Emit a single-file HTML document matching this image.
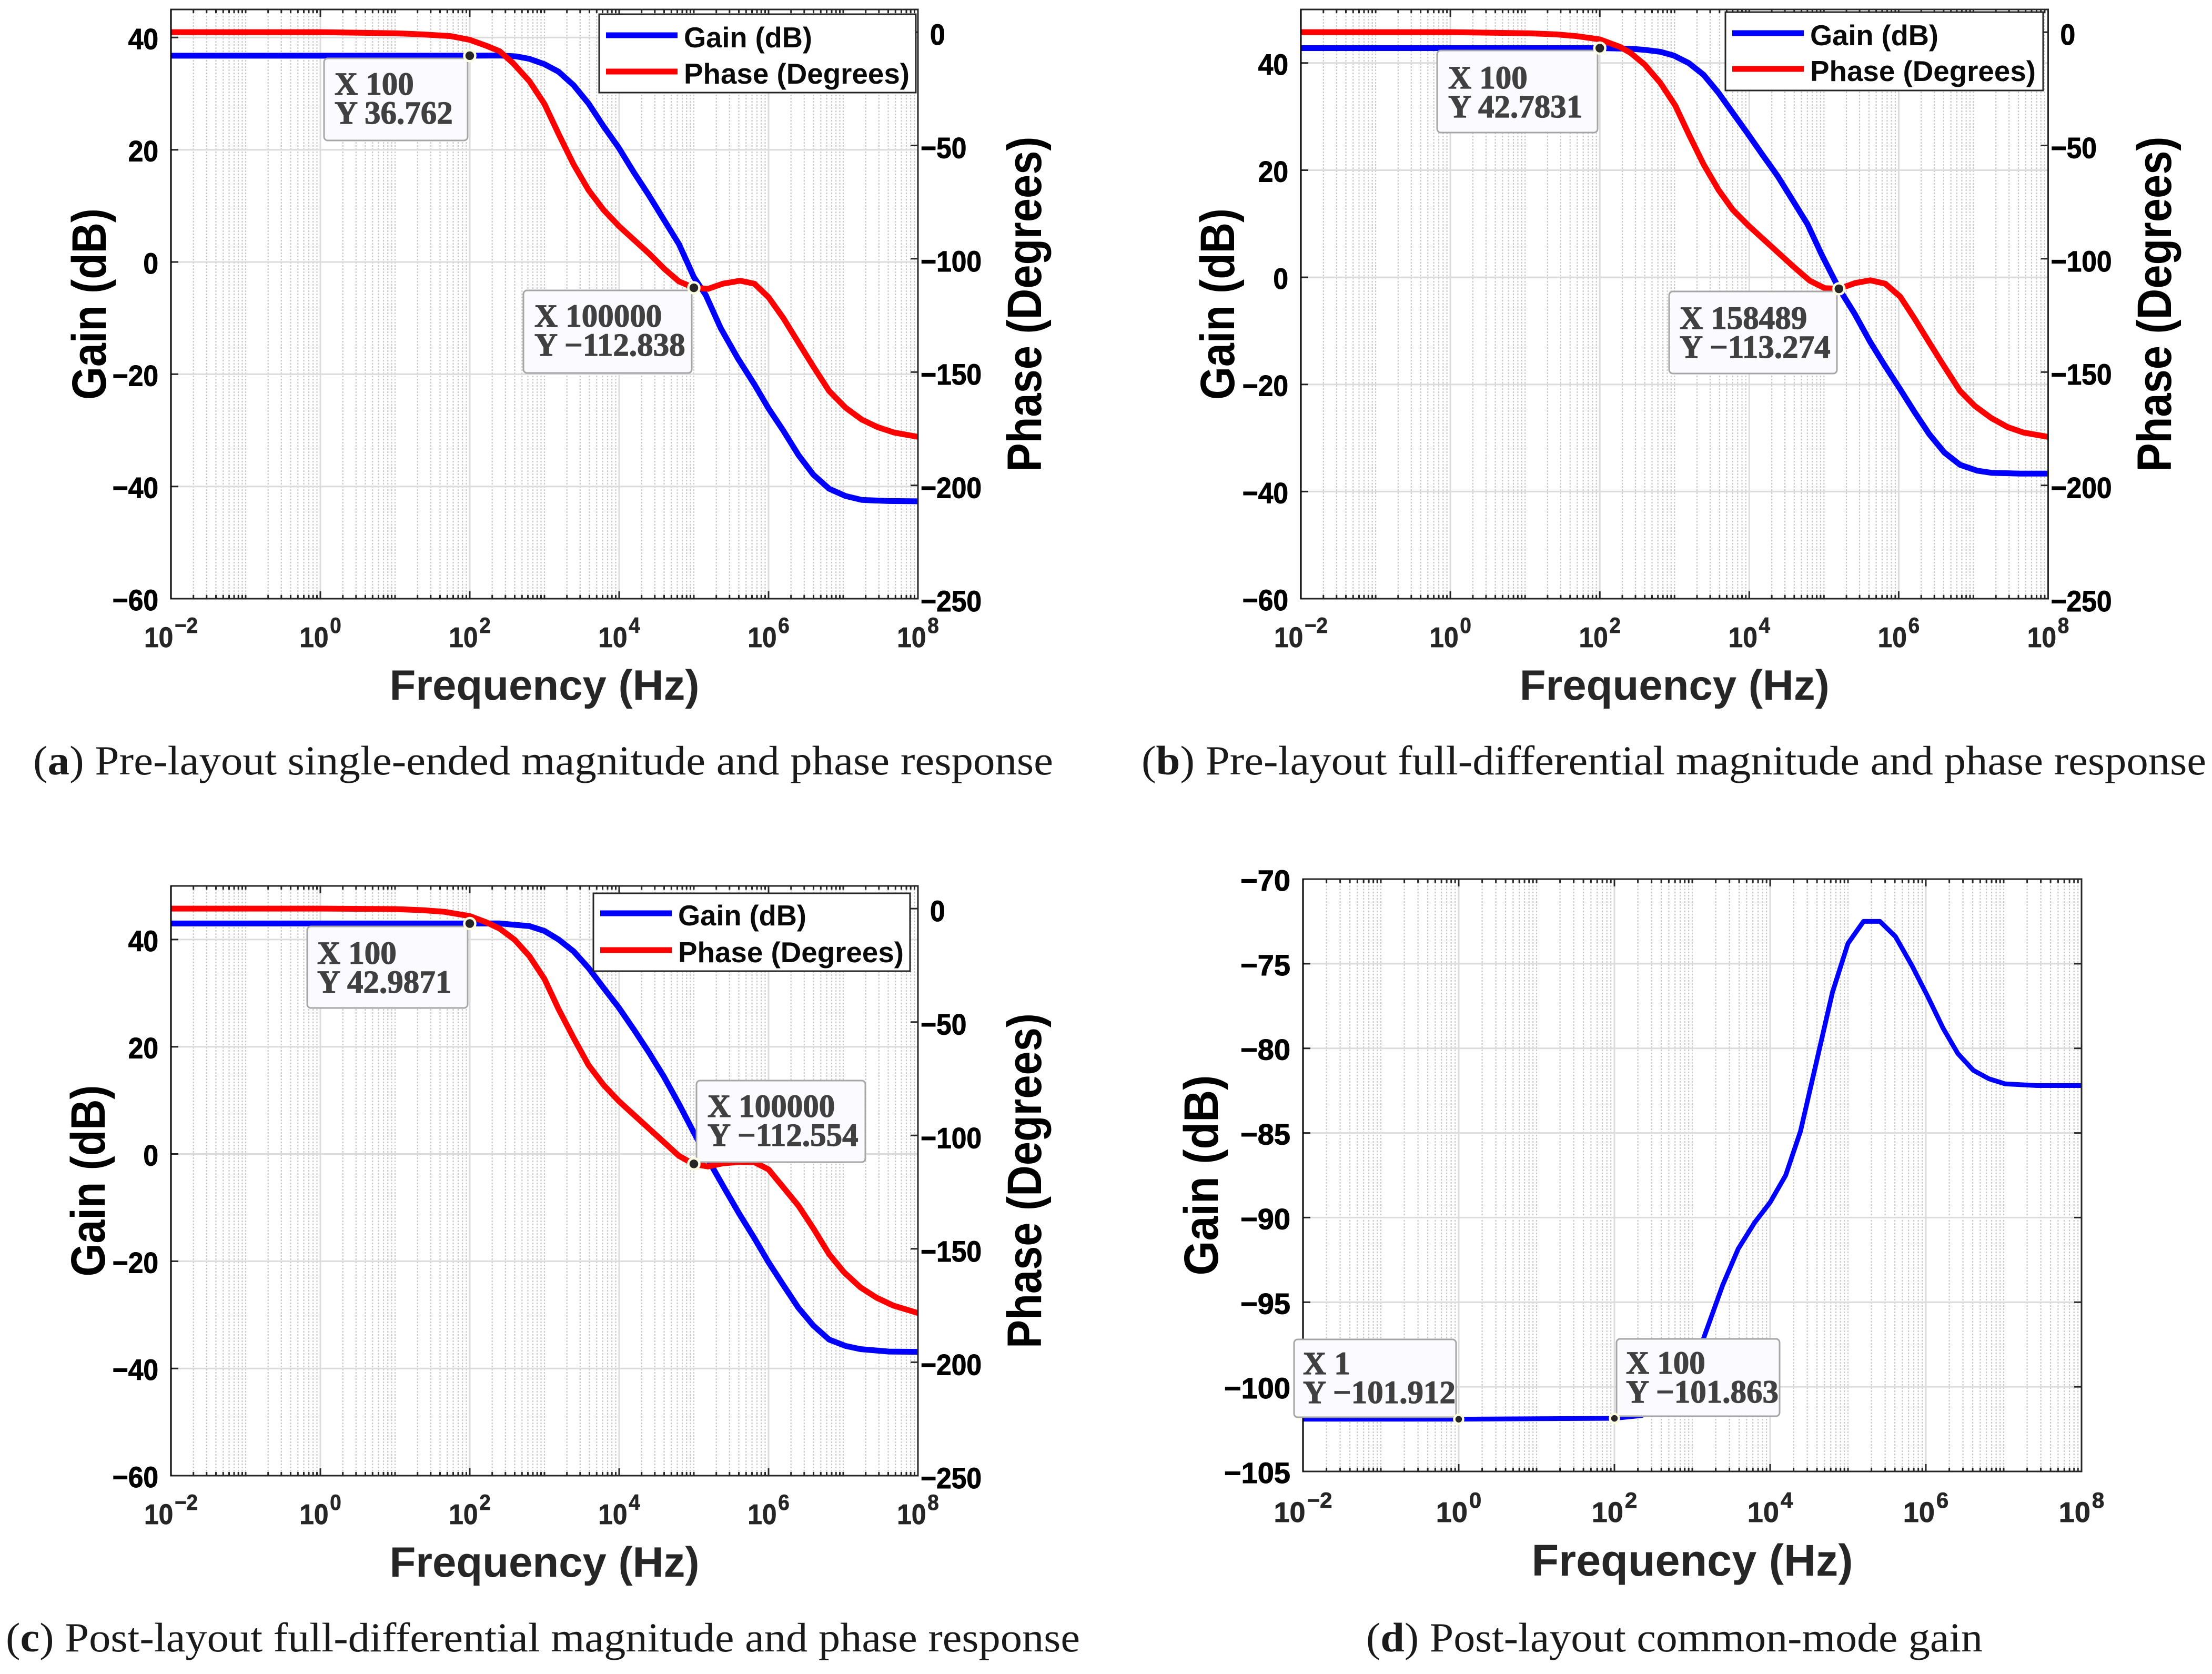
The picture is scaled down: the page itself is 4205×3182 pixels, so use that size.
<!DOCTYPE html>
<html lang="en">
<head>
<meta charset="utf-8">
<title>Gain and phase response charts</title>
<style>
html,body{margin:0;padding:0;background:#fff}
svg{display:block}
text{font-family:"Liberation Sans",sans-serif}
.cap{font-family:"Liberation Serif",serif;font-size:78px;fill:#1a1a1a}
</style>
</head>
<body>
<svg id="figure" xmlns="http://www.w3.org/2000/svg" width="4205" height="3182" viewBox="0 0 4205 3182">
<rect x="0" y="0" width="4205" height="3182" fill="#ffffff"/>
<g id="panel-a"></g>
<g id="panel-b"></g>
<g id="panel-c"></g>
<g id="panel-d"></g>
<text class="cap" x="63" y="1472" textLength="1939" lengthAdjust="spacingAndGlyphs">(<tspan font-weight="bold">a</tspan>) Pre-layout single-ended magnitude and phase response</text>
<text class="cap" x="2170" y="1472" textLength="2024" lengthAdjust="spacingAndGlyphs">(<tspan font-weight="bold">b</tspan>) Pre-layout full-differential magnitude and phase response</text>
<text class="cap" x="11" y="3139" textLength="2042" lengthAdjust="spacingAndGlyphs">(<tspan font-weight="bold">c</tspan>) Post-layout full-differential magnitude and phase response</text>
<text class="cap" x="2597" y="3139" textLength="1172" lengthAdjust="spacingAndGlyphs">(<tspan font-weight="bold">d</tspan>) Post-layout common-mode gain</text>
</svg>
<script>
// ---------- shared axis data ----------
const decadeExponents = [-2, 0, 2, 4, 6, 8];
const gainTicks = [-60, -40, -20, 0, 20, 40];
const phaseTicks = [-250, -200, -150, -100, -50, 0];
const commonModeTicks = [-105, -100, -95, -90, -85, -80, -75, -70];
const legendLabels = ['Gain (dB)', 'Phase (Degrees)'];

// ---------- panel (a) ----------
const aGainLogF = [-2, 2, 2.4, 2.62, 2.8, 3, 3.19, 3.39, 3.59, 3.79, 3.99, 4.2, 4.4, 4.6, 4.8, 4.92, 5, 5.16, 5.36, 5.59, 5.81, 6, 6.2, 6.4, 6.6, 6.81, 7.03, 7.25, 7.61, 8];
const aGainDb = [36.76, 36.76, 36.8, 36.65, 36.2, 35.25, 33.9, 31.5, 28.25, 24.2, 20.45, 15.9, 11.84, 7.5, 3.2, -0.3, -2.7, -5.9, -11.8, -17.2, -21.8, -26.1, -30.1, -34.4, -37.9, -40.4, -41.7, -42.4, -42.6, -42.65];
const aPhaseLogF = [-2, 0, 1, 1.37, 1.75, 2, 2.22, 2.4, 2.58, 2.8, 3, 3.19, 3.39, 3.59, 3.79, 4, 4.2, 4.4, 4.6, 4.8, 5, 5.19, 5.39, 5.62, 5.81, 6, 6.2, 6.4, 6.6, 6.81, 7.03, 7.25, 7.46, 7.68, 8];
const aPhaseDeg = [0, 0, -0.5, -1, -1.8, -3.4, -6, -8.4, -13.7, -21.7, -31.7, -45, -58.4, -69.7, -78.4, -85.7, -91.7, -97.7, -104.3, -110, -112.8, -113.3, -111, -109.7, -111, -117, -126.3, -137, -147.6, -158.3, -165.7, -171, -174.3, -176.7, -178.6];
const aTipFreq = [100, 100000];
const aTipValue = [36.762, -112.838];
const aTipXLabels = ['100', '100000'];
const aTipYLabels = ['36.762', '\u2212112.838'];

// ---------- panel (b) ----------
const bGainLogF = [-2, 2, 2.41, 2.61, 2.81, 2.99, 3.19, 3.39, 3.59, 3.78, 3.98, 4.18, 4.38, 4.58, 4.78, 4.97, 5.2, 5.41, 5.62, 5.82, 6.02, 6.21, 6.41, 6.61, 6.82, 7.05, 7.24, 7.62, 8];
const bGainDb = [42.78, 42.78, 42.67, 42.45, 42.1, 41.4, 40, 37.8, 34.4, 30.7, 26.8, 22.8, 18.9, 14.4, 9.9, 4.2, -2.1, -6.8, -12.1, -16.6, -20.9, -25.1, -29.3, -32.7, -35, -36.1, -36.5, -36.65, -36.65];
const bPhaseLogF = [-2, 0, 1.04, 1.42, 1.7, 2, 2.27, 2.41, 2.6, 2.81, 3.01, 3.19, 3.39, 3.59, 3.78, 4, 4.2, 4.4, 4.6, 4.81, 5.01, 5.2, 5.42, 5.62, 5.82, 6.02, 6.21, 6.41, 6.61, 6.82, 7.02, 7.24, 7.46, 7.67, 8];
const bPhaseDeg = [0, 0, -0.5, -1, -1.8, -3.2, -6.5, -9.1, -14.3, -22.4, -32.4, -45, -58.4, -69.7, -78.4, -85.7, -91.7, -97.7, -103.7, -109.7, -113, -113.27, -110.7, -109.5, -111, -116.7, -126.3, -137, -147.6, -158.3, -165, -170.3, -174.3, -176.7, -178.6];
const bTipFreq = [100, 158489];
const bTipValue = [42.7831, -113.274];
const bTipXLabels = ['100', '158489'];
const bTipYLabels = ['42.7831', '\u2212113.274'];

// ---------- panel (c) ----------
const cGainLogF = [-2, 2, 2.4, 2.6, 2.8, 3, 3.19, 3.39, 3.59, 3.79, 3.99, 4.2, 4.4, 4.6, 4.8, 5, 5.25, 5.41, 5.61, 5.81, 6, 6.2, 6.4, 6.6, 6.81, 7.03, 7.23, 7.61, 8];
const cGainDb = [42.99, 42.99, 43, 42.75, 42.5, 41.6, 40, 37.8, 34.7, 31, 27.4, 23.15, 18.9, 14.4, 9.35, 4, -2.5, -6.4, -11.2, -15.7, -20.2, -24.5, -28.7, -32, -34.6, -35.8, -36.4, -36.85, -36.9];
const cPhaseLogF = [-2, 0, 1, 1.37, 1.66, 2, 2.22, 2.4, 2.6, 2.8, 3, 3.19, 3.39, 3.59, 3.79, 4, 4.2, 4.4, 4.6, 4.8, 5, 5.19, 5.39, 5.61, 5.81, 6, 6.2, 6.4, 6.6, 6.81, 7.01, 7.23, 7.45, 7.67, 8];
const cPhaseDeg = [0, 0, -0.2, -0.7, -1.4, -3.3, -6, -8.8, -13.7, -21, -31, -44.4, -57, -69, -77.7, -85, -91, -97, -103, -109, -112.7, -113.7, -112.3, -111.7, -111.8, -115, -123, -131, -141, -152.3, -160.3, -167, -171.6, -175, -178.3];
const cTipFreq = [100, 100000];
const cTipValue = [42.9871, -112.554];
const cTipXLabels = ['100', '100000'];
const cTipYLabels = ['42.9871', '\u2212112.554'];

// ---------- panel (d) ----------
const dGainLogF = [-2, 0, 2, 2.35, 2.71, 2.94, 3.14, 3.39, 3.59, 3.8, 4, 4.2, 4.39, 4.57, 4.8, 5, 5.2, 5.41, 5.61, 5.82, 6.02, 6.22, 6.41, 6.61, 6.81, 7.02, 7.43, 8];
const dGainDb = [-101.91, -101.91, -101.86, -101.7, -100.9, -99, -97.2, -94, -91.85, -90.3, -89.1, -87.5, -84.9, -81.3, -76.7, -73.8, -72.5, -72.5, -73.4, -75.1, -76.9, -78.8, -80.3, -81.3, -81.8, -82.1, -82.2, -82.2];
const dTipFreq = [1, 100];
const dTipValue = [-101.912, -101.863];
const dTipXLabels = ['1', '100'];
const dTipYLabels = ['\u2212101.912', '\u2212101.863'];

// ---------- helpers ----------
const SVGNS = 'http://www.w3.org/2000/svg';
function mk(parent, tag, attrs) {
  const el = document.createElementNS(SVGNS, tag);
  for (const k in attrs) el.setAttribute(k, attrs[k]);
  parent.appendChild(el);
  return el;
}
function minusFmt(v) { return String(v).replace('-', '\u2212'); }
function scaledText(parent, content, x, y, sx, size, anchor, fill) {
  const t = mk(parent, 'text', {
    transform: 'translate(' + x + ',' + y + ') scale(' + sx + ',1)',
    'font-size': size, 'font-weight': 'bold', 'text-anchor': anchor, fill: fill,
    stroke: fill, 'stroke-width': 1
  });
  t.textContent = content;
  return t;
}

function drawPanel(cfg) {
  const g = document.getElementById(cfg.id);
  const box = cfg.box;
  const xs = lf => box.l + (lf - (-2)) / 10 * (box.r - box.l);
  const yL = v => box.b - (v - cfg.leftLim[0]) / (cfg.leftLim[1] - cfg.leftLim[0]) * (box.b - box.t);
  const yR = v => box.b - (v - (-250)) / 260 * (box.b - box.t);

  // grid
  let minorD = '';
  for (let dec = -2; dec < 8; dec++) {
    for (let m = 1; m <= 9; m++) {
      if (m === 1 && dec % 2 === 0) continue;
      const x = xs(dec + Math.log10(m));
      minorD += 'M' + x.toFixed(1) + ' ' + box.t + 'V' + box.b;
    }
  }
  const minor = mk(g, 'path', { d: minorD, stroke: '#c8c8c8', 'stroke-width': 2.2, 'stroke-dasharray': '3 3', fill: 'none' });
  
  

  let majorD = '';
  decadeExponents.forEach(e => { majorD += 'M' + xs(e).toFixed(1) + ' ' + box.t + 'V' + box.b; });
  cfg.leftTicks.forEach(v => { majorD += 'M' + box.l + ' ' + yL(v).toFixed(1) + 'H' + box.r; });
  const major = mk(g, 'path', { d: majorD, stroke: '#dcdcdc', 'stroke-width': 3, fill: 'none' });
  
  

  // ticks
  let tickD = '';
  for (let dec = -2; dec < 8; dec++) {
    for (let m = 2; m <= 10; m++) {
      if (m === 10 && (dec + 1) % 2 === 0) continue;
      const x = xs(dec + Math.log10(m)).toFixed(1);
      tickD += 'M' + x + ' ' + box.b + 'v-7M' + x + ' ' + box.t + 'v7';
    }
  }
  decadeExponents.forEach(e => {
    const x = xs(e).toFixed(1);
    tickD += 'M' + x + ' ' + box.b + 'v-14M' + x + ' ' + box.t + 'v14';
  });
  cfg.leftTicks.forEach(v => { tickD += 'M' + box.l + ' ' + yL(v).toFixed(1) + 'h14'; });
  if (cfg.phaseAxis) {
    phaseTicks.forEach(v => { tickD += 'M' + box.r + ' ' + yR(v).toFixed(1) + 'h-14'; });
  } else {
    cfg.leftTicks.forEach(v => { tickD += 'M' + box.r + ' ' + yL(v).toFixed(1) + 'h-14'; });
  }
  const ticks = mk(g, 'path', { d: tickD, stroke: '#262626', 'stroke-width': 3, fill: 'none' });
  
  

  // curves
  const toPts = (fs, vs, sy) => fs.map((f, i) => xs(f).toFixed(1) + ',' + sy(vs[i]).toFixed(1)).join(' ');
  const gainLine = mk(g, 'polyline', {
    points: toPts(cfg.gainF, cfg.gainV, yL), fill: 'none', stroke: '#0000ff',
    'stroke-width': cfg.phaseAxis ? 11 : 9, 'stroke-linejoin': 'round'
  });
  
  
  if (cfg.phaseAxis) {
    const phaseLine = mk(g, 'polyline', {
      points: toPts(cfg.phaseF, cfg.phaseV, yR), fill: 'none', stroke: '#ff0000',
      'stroke-width': 11, 'stroke-linejoin': 'round'
    });
    
    
  }

  // axes box
  const frame = mk(g, 'rect', { x: box.l, y: box.t, width: box.r - box.l, height: box.b - box.t, fill: 'none', stroke: '#262626', 'stroke-width': 3 });
  
  
  const leftAxis = mk(g, 'line', { x1: box.l, x2: box.l, y1: box.t, y2: box.b, stroke: '#000000', 'stroke-width': 3 });
  
  

  // left tick labels
  cfg.leftTicks.forEach(v => {
    const t = scaledText(g, minusFmt(v), box.l - 24, yL(v) + 22, cfg.tickScale, 56, 'end', '#000000');
    
    
  });

  // right tick labels
  if (cfg.phaseAxis) {
    phaseTicks.forEach(v => {
      const t = scaledText(g, minusFmt(v), box.r + (v === 0 ? 23 : 5), yR(v) + 24, cfg.tickScale, 56, 'start', '#000000');
      
      
    });
  }

  // x tick labels
  decadeExponents.forEach(e => {
    const t = mk(g, 'text', {
      transform: 'translate(' + xs(e).toFixed(1) + ',' + (box.b + cfg.xTickDrop) + ') scale(' + cfg.tickScale + ',1)',
      'font-size': 54, 'font-weight': 'bold', 'text-anchor': 'middle', fill: '#262626', stroke: '#262626', 'stroke-width': 0.8
    });
    
    
    const base = mk(t, 'tspan', {});
    base.textContent = '10';
    const sup = mk(t, 'tspan', { dy: -27, 'font-size': 42, dx: 3 });
    sup.textContent = minusFmt(e);
  });

  // axis titles
  const xTitle = mk(g, 'text', {
    x: (box.l + box.r) / 2, y: box.b + cfg.xTitleDrop, 'font-size': cfg.xTitleSize, 'font-weight': 'bold',
    'text-anchor': 'middle', fill: '#262626', textLength: cfg.xTitleLen, lengthAdjust: 'spacingAndGlyphs'
  });
  xTitle.textContent = 'Frequency (Hz)';
  
  

  const midY = (box.t + box.b) / 2;
  const gainTitle = mk(g, 'text', {
    transform: 'translate(' + cfg.gainTitleX + ',' + midY + ') rotate(-90)', 'font-size': 92, 'font-weight': 'bold',
    'text-anchor': 'middle', fill: '#000000', textLength: cfg.gainTitleLen, lengthAdjust: 'spacingAndGlyphs'
  });
  gainTitle.textContent = 'Gain (dB)';
  
  

  if (cfg.phaseAxis) {
    const phaseTitle = mk(g, 'text', {
      transform: 'translate(' + cfg.phaseTitleX + ',' + midY + ') rotate(-90)', 'font-size': 92, 'font-weight': 'bold',
      'text-anchor': 'middle', fill: '#000000', textLength: 637, lengthAdjust: 'spacingAndGlyphs'
    });
    phaseTitle.textContent = 'Phase (Degrees)';
    
    
  }

  // legend
  if (cfg.legend) {
    const L = cfg.legend;
    const lg = mk(g, 'g', {});
    
    
    const lbox = mk(lg, 'rect', { x: L.x, y: L.y, width: L.w, height: L.h, fill: '#ffffff', stroke: '#262626', 'stroke-width': 3 });
    
    
    const colors = ['#0000ff', '#ff0000'];
    legendLabels.forEach((label, i) => {
      const cy = L.y + (i === 0 ? L.row1 : L.row2);
      const sw = mk(lg, 'line', { x1: L.x + 13, x2: L.x + 149, y1: cy, y2: cy, stroke: colors[i], 'stroke-width': 11 });
      
      
      const t = mk(lg, 'text', {
        x: L.x + 161, y: cy + 23, 'font-size': 55, 'font-weight': 'bold', fill: '#0a0a0a',
        textLength: i === 0 ? 244 : 429, lengthAdjust: 'spacingAndGlyphs'
      });
      t.textContent = label;
      
      
    });
  }

  // data tips
  cfg.tipFreq.forEach((f, i) => {
    const L = cfg.tips[i];
    const tip = mk(g, 'g', {});
    
    
    const r = mk(tip, 'rect', { x: L.x, y: L.y, width: L.w, height: L.h, rx: 7, ry: 7, fill: '#fafaff', stroke: '#a6a6a6', 'stroke-width': 3 });
    
    
    const tx = mk(tip, 'text', { x: L.tx, y: L.b1, 'font-size': 61, 'font-weight': 'bold', fill: '#404040', stroke: '#404040', 'stroke-width': 1.2, style: 'font-family:"Liberation Serif",serif' });
    tx.textContent = 'X ' + cfg.tipX[i];
    
    
    const ty = mk(tip, 'text', { x: L.tx, y: L.b1 + 55, 'font-size': 61, 'font-weight': 'bold', fill: '#404040', stroke: '#404040', 'stroke-width': 1.2, style: 'font-family:"Liberation Serif",serif' });
    ty.textContent = 'Y ' + cfg.tipY[i];
    
    
  });
  cfg.tipFreq.forEach((f, i) => {
    const sy = cfg.tipOnPhase[i] ? yR : yL;
    const dot = mk(g, 'circle', {
      cx: xs(Math.log10(f)).toFixed(1), cy: sy(cfg.tipValue[i]).toFixed(1), r: cfg.phaseAxis ? 10.5 : 8.5,
      fill: '#262626', stroke: '#fdfde2', 'stroke-width': 4.5
    });
    
    
  });
}

drawPanel({
  id: 'panel-a', box: { l: 325, r: 1745, t: 18, b: 1138 }, leftLim: [-60, 45], leftTicks: gainTicks, phaseAxis: true,
  gainF: aGainLogF, gainV: aGainDb, phaseF: aPhaseLogF, phaseV: aPhaseDeg,
  tickScale: 0.92, xTickDrop: 92, xTitleDrop: 192, xTitleSize: 81, xTitleLen: 589,
  gainTitleX: 201, gainTitleLen: 364, phaseTitleX: 1979,
  legend: { x: 1139, y: 27, w: 602, h: 149, row1: 40, row2: 109 },
  tipFreq: aTipFreq, tipValue: aTipValue, tipX: aTipXLabels, tipY: aTipYLabels, tipOnPhase: [false, true],
  tips: [{ x: 616, y: 111, w: 273, h: 156, tx: 636, b1: 180 }, { x: 995, y: 552, w: 320, h: 157, tx: 1016, b1: 621 }]
});
drawPanel({
  id: 'panel-b', box: { l: 2473, r: 3893.5, t: 18, b: 1138 }, leftLim: [-60, 50], leftTicks: gainTicks, phaseAxis: true,
  gainF: bGainLogF, gainV: bGainDb, phaseF: bPhaseLogF, phaseV: bPhaseDeg,
  tickScale: 0.92, xTickDrop: 92, xTitleDrop: 192, xTitleSize: 81, xTitleLen: 589,
  gainTitleX: 2346, gainTitleLen: 364, phaseTitleX: 4127,
  legend: { x: 3280, y: 23, w: 604, h: 149, row1: 40, row2: 108 },
  tipFreq: bTipFreq, tipValue: bTipValue, tipX: bTipXLabels, tipY: bTipYLabels, tipOnPhase: [false, true],
  tips: [{ x: 2732, y: 96, w: 305, h: 156, tx: 2753, b1: 168 }, { x: 3173, y: 554, w: 319, h: 156, tx: 3193, b1: 625 }]
});
drawPanel({
  id: 'panel-c', box: { l: 325, r: 1745, t: 1684, b: 2805 }, leftLim: [-60, 50], leftTicks: gainTicks, phaseAxis: true,
  gainF: cGainLogF, gainV: cGainDb, phaseF: cPhaseLogF, phaseV: cPhaseDeg,
  tickScale: 0.92, xTickDrop: 92, xTitleDrop: 192, xTitleSize: 81, xTitleLen: 589,
  gainTitleX: 199, gainTitleLen: 364, phaseTitleX: 1979,
  legend: { x: 1128, y: 1698, w: 602, h: 148, row1: 38, row2: 108 },
  tipFreq: cTipFreq, tipValue: cTipValue, tipX: cTipXLabels, tipY: cTipYLabels, tipOnPhase: [false, true],
  tips: [{ x: 584, y: 1761, w: 305, h: 155, tx: 603, b1: 1832 }, { x: 1324, y: 2054, w: 321, h: 155, tx: 1345, b1: 2123 }]
});
drawPanel({
  id: 'panel-d', box: { l: 2477, r: 3957, t: 1671, b: 2797 }, leftLim: [-105, -70], leftTicks: commonModeTicks, phaseAxis: false,
  gainF: dGainLogF, gainV: dGainDb,
  tickScale: 1, xTickDrop: 96, xTitleDrop: 198, xTitleSize: 84, xTitleLen: 611,
  gainTitleX: 2315, gainTitleLen: 381,
  legend: null,
  tipFreq: dTipFreq, tipValue: dTipValue, tipX: dTipXLabels, tipY: dTipYLabels, tipOnPhase: [false, false],
  tips: [{ x: 2460, y: 2546, w: 308, h: 148, tx: 2477, b1: 2612 }, { x: 3073, y: 2545, w: 310, h: 147, tx: 3091, b1: 2611 }]
});
</script>
</body>
</html>
